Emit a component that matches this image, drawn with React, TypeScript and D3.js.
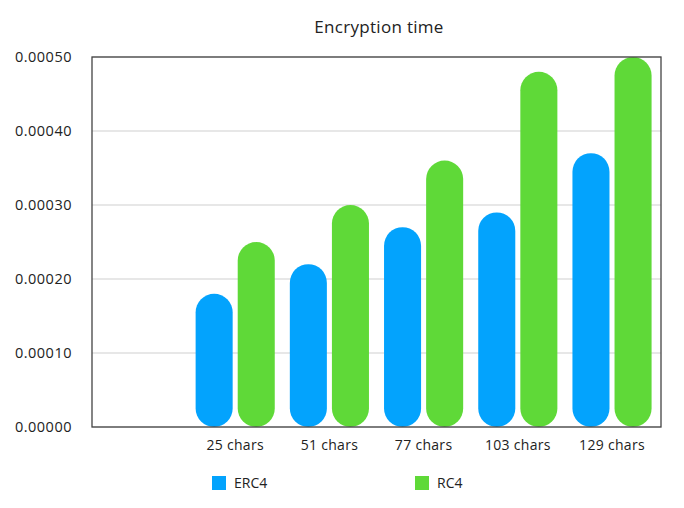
import React, { useRef, useEffect } from "react";
import * as d3 from "d3";

const categories = ["", "25 chars", "51 chars", "77 chars", "103 chars", "129 chars"];
const seriesNames = ["ERC4", "RC4"];
const erc4 = [null, 0.00018, 0.00022, 0.00027, 0.00029, 0.00037];
const rc4 = [null, 0.00025, 0.0003, 0.00036, 0.00048, 0.0005];
const yTicks = [0, 0.0001, 0.0002, 0.0003, 0.0004, 0.0005];
const colors = ["#03a3fd", "#5fd938"];

const W = 684;
const H = 508;

const App = () => {
  const svgRef = useRef<SVGSVGElement>(null);

  useEffect(() => {
    const svg = d3.select(svgRef.current);
    svg.selectAll("*").remove();

    const margin = { top: 57, right: 23, bottom: 81, left: 92 };
    const font = "'Open Sans', Roboto, sans-serif";

    const x0 = d3
      .scaleBand()
      .domain(categories)
      .range([margin.left, W - margin.right])
      .paddingInner(0.16)
      .paddingOuter(0.1);

    const x1 = d3
      .scaleBand()
      .domain(seriesNames)
      .range([0, x0.bandwidth()])
      .paddingInner(0.12);

    const y = d3
      .scaleLinear()
      .domain([0, 0.0005])
      .range([H - margin.bottom, margin.top]);

    // gridlines
    svg
      .append("g")
      .selectAll("line")
      .data(yTicks)
      .enter()
      .append("line")
      .attr("x1", margin.left)
      .attr("x2", W - margin.right)
      .attr("y1", (d) => y(d))
      .attr("y2", (d) => y(d))
      .attr("stroke", "#cfcfcf")
      .attr("stroke-width", 1.2);

    // y labels
    svg
      .append("g")
      .selectAll("text")
      .data(yTicks)
      .enter()
      .append("text")
      .attr("x", 72)
      .attr("y", (d) => y(d))
      .attr("dy", "0.35em")
      .attr("text-anchor", "end")
      .style("font-family", font)
      .style("font-size", "14.5px")
      .style("letter-spacing", "0.5px")
      .style("fill", "#222")
      .text((d) => d3.format(".5f")(d));

    // bars
    const series = [erc4, rc4];
    series.forEach((vals, si) => {
      svg
        .append("g")
        .selectAll("rect")
        .data(categories.map((c, i) => ({ c, v: vals[i] })).filter((d) => d.v != null))
        .enter()
        .append("rect")
        .attr("x", (d) => (x0(d.c) as number) + (x1(seriesNames[si]) as number))
        .attr("y", (d) => y(d.v as number))
        .attr("width", x1.bandwidth())
        .attr("height", (d) => y(0) - y(d.v as number))
        .attr("rx", x1.bandwidth() / 2)
        .attr("fill", colors[si]);
    });

    // frame
    svg
      .append("rect")
      .attr("x", margin.left)
      .attr("y", margin.top)
      .attr("width", W - margin.right - margin.left)
      .attr("height", H - margin.bottom - margin.top)
      .attr("fill", "none")
      .attr("stroke", "#444")
      .attr("stroke-width", 1.3);

    // x labels
    svg
      .append("g")
      .selectAll("text")
      .data(categories.filter((c) => c !== ""))
      .enter()
      .append("text")
      .attr("x", (d) => (x0(d) as number) + x0.bandwidth() / 2)
      .attr("y", 450)
      .attr("text-anchor", "middle")
      .style("font-family", font)
      .style("font-size", "14px")
      .style("letter-spacing", "0.3px")
      .style("fill", "#222")
      .text((d) => d);

    // title
    svg
      .append("text")
      .attr("x", 379)
      .attr("y", 33)
      .attr("text-anchor", "middle")
      .style("font-family", font)
      .style("font-size", "17px")
      .style("letter-spacing", "0.3px")
      .style("fill", "#222")
      .text("Encryption time");

    // legend
    const legendX = [212, 415];
    seriesNames.forEach((name, i) => {
      svg
        .append("rect")
        .attr("x", legendX[i])
        .attr("y", 476)
        .attr("width", 14)
        .attr("height", 14)
        .attr("fill", colors[i]);
      svg
        .append("text")
        .attr("x", legendX[i] + 22)
        .attr("y", 488)
        .style("font-family", font)
        .style("font-size", "14px")
        .style("fill", "#222")
        .text(name);
    });
  }, []);

  return (
    <svg
      ref={svgRef}
      width={W}
      height={H}
      style={{ position: "absolute", left: 0, top: 0, background: "white" }}
    ></svg>
  );
};

export default App;
